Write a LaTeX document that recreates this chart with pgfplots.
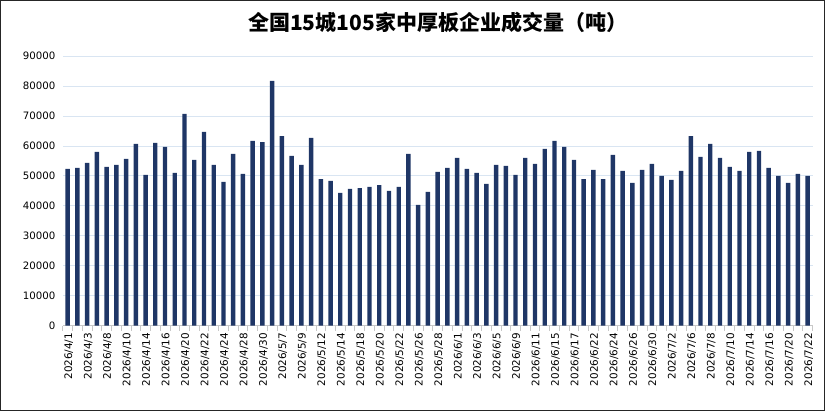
\documentclass[border=0pt]{standalone}
\usepackage{pgfplots}
\pgfplotsset{compat=1.18}
\usepackage{pgfplotstable}
\usepackage{fontspec}
\setmainfont{DejaVu Sans}
\newfontfamily\cjk{Noto Sans CJK SC}
\definecolor{barblue}{RGB}{31,54,102}
\definecolor{gridblue}{RGB}{217,229,242}
\definecolor{axisgray}{RGB}{200,200,200}
\pgfplotstableread{
x y
0 52300
1 52650
2 54300
3 58000
4 53000
5 53650
6 55650
7 60650
8 50300
9 61000
10 59650
11 51000
12 70700
13 55300
14 64700
15 53650
16 48000
17 57300
18 50650
19 61650
20 61300
21 81700
22 63300
23 56650
24 53650
25 62650
26 48950
27 48300
28 44300
29 45650
30 45950
31 46300
32 46950
33 44950
34 46300
35 57300
36 40300
37 44650
38 51300
39 52650
40 56000
41 52300
42 51000
43 47300
44 53650
45 53300
46 50300
47 56000
48 54000
49 59000
50 61650
51 59650
52 55300
53 48950
54 52000
55 48950
56 57000
57 51650
58 47650
59 52000
60 54000
61 50000
62 48650
63 51650
64 63300
65 56300
66 60650
67 56000
68 53000
69 51650
70 58000
71 58300
72 52650
73 50000
74 47650
75 50650
76 50000
}\datatable
\begin{document}
\begin{tikzpicture}[x=1pt,y=1pt]
\draw[line width=1.2pt, black!85] (0.6,0.6) rectangle (824.4,410.4);
\node[font=\cjk\bfseries\fontsize{21}{24}\selectfont, anchor=center] at (437.6,388) {全国15城105家中厚板企业成交量（吨）};
\begin{axis}[
  at={(62.8pt,85.3pt)}, anchor=south west,
  scale only axis, width=749.7pt, height=269.7pt,
  xmin=-0.5, xmax=76.5, ymin=0, ymax=90000,
  ybar, bar width=4.4pt,
  axis x line*=bottom, axis y line*=left,
  x axis line style={axisgray, line width=0.8pt},
  y axis line style={draw=none},
  xtick={0,2,...,76},
  xticklabels={2026/4/1,2026/4/3,2026/4/8,2026/4/10,2026/4/14,2026/4/16,2026/4/20,2026/4/22,2026/4/24,2026/4/28,2026/4/30,2026/5/7,2026/5/9,2026/5/12,2026/5/14,2026/5/18,2026/5/20,2026/5/22,2026/5/26,2026/5/28,2026/6/1,2026/6/3,2026/6/5,2026/6/9,2026/6/11,2026/6/15,2026/6/17,2026/6/22,2026/6/24,2026/6/26,2026/6/30,2026/7/2,2026/7/6,2026/7/8,2026/7/10,2026/7/14,2026/7/16,2026/7/20,2026/7/22},
  x tick label style={rotate=90, anchor=east, font=\fontsize{10.4}{12}\selectfont, inner sep=0pt, xshift=0pt, yshift=-1pt},
  minor xtick={-0.5,0.5,...,76.5},
  major tick length=0pt, minor tick length=5pt,
  xtick align=outside,
  minor x tick style={axisgray, line width=0.8pt},
  ytick={0,10000,...,90000},
  y tick label style={font=\fontsize{10.2}{12}\selectfont, text=black},
  /pgf/number format/assume math mode=true,
  scaled y ticks=false,
  yticklabel={\pgfmathprintnumber[fixed, 1000 sep={}]{\tick}},
  ytick style={draw=none},
  ymajorgrids, grid style={gridblue, line width=0.8pt},
  tick label style={/pgf/number format/1000 sep={}},
  xticklabel shift=7pt, yticklabel shift=4pt,
  clip=false,
]
\addplot[fill=barblue, draw=none] table[x=x,y=y] {\datatable};
\end{axis}
\end{tikzpicture}
\end{document}
